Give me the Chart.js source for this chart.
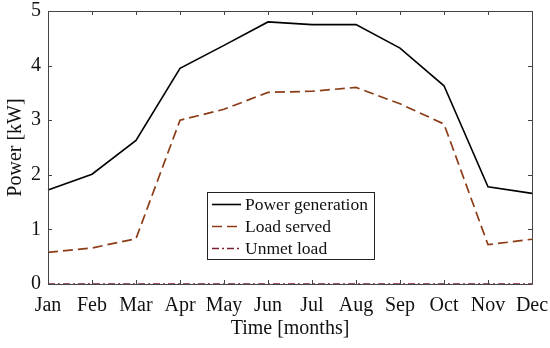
<!DOCTYPE html>
<html>
<head>
<meta charset="utf-8">
<script src="https://cdn.jsdelivr.net/npm/chart.js@4/dist/chart.umd.min.js"></script>
<style>
html,body{margin:0;padding:0;background:#fff;}
#wrap{width:550px;height:348px;position:relative;}
</style>
</head>
<body>
<div id="wrap"><canvas id="c"></canvas></div>
<script>
const months = ['Jan','Feb','Mar','Apr','May','Jun','Jul','Aug','Sep','Oct','Nov','Dec'];
const powerGeneration = [1.72, 2.01, 2.63, 3.95, 4.37, 4.80, 4.75, 4.75, 4.32, 3.63, 1.78, 1.66];
const loadServed = [0.58, 0.66, 0.83, 3.00, 3.20, 3.51, 3.53, 3.60, 3.30, 2.93, 0.72, 0.82];
const unmetLoad = [0, 0, 0, 0, 0, 0, 0, 0, 0, 0, 0, 0];
const yTicks = [0, 1, 2, 3, 4, 5];

const FONT = '"Liberation Serif", "Times New Roman", serif';
const AXIS = '#444';

const boxPlugin = {
  id: 'boxPlugin',
  afterDatasetsDraw(chart) {
    const ctx = chart.ctx;
    const a = chart.chartArea;
    const xs = chart.scales.x, ys = chart.scales.y;
    ctx.save();
    ctx.strokeStyle = AXIS;
    ctx.lineWidth = 1;
    ctx.beginPath();
    ctx.rect(Math.round(a.left) + 0.5, Math.round(a.top) + 0.5, Math.round(a.right - a.left), Math.round(a.bottom - a.top));
    ctx.stroke();
    const L = 4;
    ctx.beginPath();
    for (let i = 0; i < xs.ticks.length; i++) {
      const x = Math.round(xs.getPixelForTick(i)) + 0.5;
      ctx.moveTo(x, a.bottom); ctx.lineTo(x, a.bottom - L);
      ctx.moveTo(x, a.top); ctx.lineTo(x, a.top + L);
    }
    for (let i = 0; i < ys.ticks.length; i++) {
      const y = Math.round(ys.getPixelForTick(i)) + 0.5;
      ctx.moveTo(a.left, y); ctx.lineTo(a.left + L, y);
      ctx.moveTo(a.right, y); ctx.lineTo(a.right - L, y);
    }
    ctx.stroke();

    // legend inside plot
    const lx = 207, ly = 192, lw = 167, lh = 67;
    ctx.fillStyle = '#fff';
    ctx.fillRect(lx, ly, lw, lh);
    ctx.strokeStyle = '#222';
    ctx.strokeRect(lx + 0.5, ly + 0.5, lw, lh);
    ctx.font = '17.5px ' + FONT;
    ctx.textBaseline = 'middle';
    ctx.textAlign = 'left';
    const rows = [204, 226, 248];
    chart.data.datasets.forEach((ds, i) => {
      const y = rows[i];
      ctx.strokeStyle = ds.borderColor;
      ctx.lineWidth = ds.borderWidth;
      ctx.setLineDash(ds.borderDash || []);
      ctx.beginPath();
      ctx.moveTo(212, y + 0.5); ctx.lineTo(241, y + 0.5);
      ctx.stroke();
      ctx.setLineDash([]);
      ctx.fillStyle = '#111';
      ctx.fillText(ds.label, 245, y + 1);
    });
    ctx.restore();
  }
};

new Chart(document.getElementById('c'), {
  type: 'line',
  data: {
    labels: months,
    datasets: [
      { label: 'Power generation', data: powerGeneration, borderColor: '#000', borderWidth: 1.6, pointRadius: 0, tension: 0, fill: false, clip: false },
      { label: 'Load served', data: loadServed, borderColor: '#8c3c16', borderWidth: 1.7, borderDash: [10, 5], pointRadius: 0, tension: 0, fill: false, clip: false },
      { label: 'Unmet load', data: unmetLoad, borderColor: '#7a2030', borderWidth: 1.4, borderDash: [7, 3, 2, 3], pointRadius: 0, tension: 0, fill: false, clip: false }
    ]
  },
  options: {
    responsive: true,
    maintainAspectRatio: false,
    animation: false,
    devicePixelRatio: 1,
    layout: { padding: { top: 11, right: 18, left: 0, bottom: 0 } },
    plugins: { legend: { display: false }, tooltip: { enabled: false } },
    scales: {
      x: {
        type: 'category',
        offset: false,
        grid: { display: false, drawTicks: false },
        border: { display: false },
        ticks: { color: '#111', font: { family: FONT, size: 20 }, padding: 10, maxRotation: 0, autoSkip: false },
        title: { display: true, text: 'Time [months]', color: '#111', font: { family: FONT, size: 20 }, padding: { top: 0, bottom: 7 } },
        afterFit(s) { s.height = 64; s.paddingLeft = 0; s.paddingRight = 0; }
      },
      y: {
        min: 0, max: 5,
        afterBuildTicks(s) { s.ticks = yTicks.map(v => ({ value: v })); },
        grid: { display: false, drawTicks: false },
        border: { display: false },
        ticks: { color: '#111', font: { family: FONT, size: 20 }, padding: 7 },
        title: { display: true, text: 'Power [kW]', color: '#111', font: { family: FONT, size: 20 }, padding: { top: 4, bottom: 0 } },
        afterFit(s) { s.width = 48; s.paddingTop = 0; s.paddingBottom = 0; }
      }
    }
  },
  plugins: [boxPlugin]
});
</script>
</body>
</html>
